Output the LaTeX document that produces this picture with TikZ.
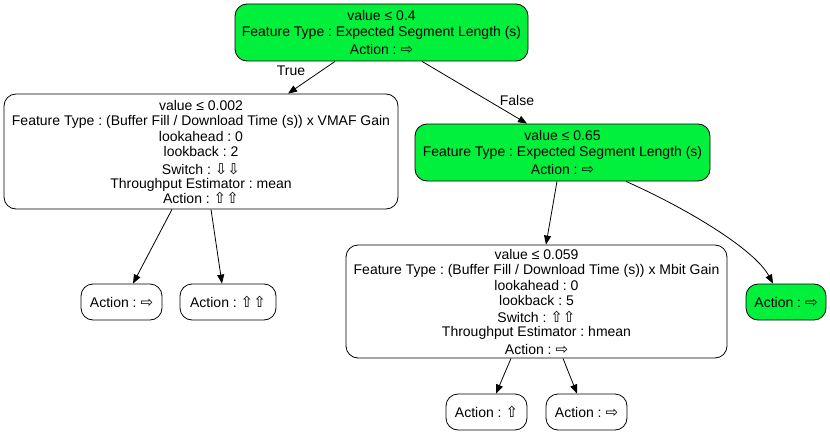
\documentclass[tikz,border=0pt]{standalone}
\usepackage{fontspec}
\setmainfont{Liberation Sans}
\newfontfamily\symf{DejaVu Sans}
\usetikzlibrary{arrows.meta}
\definecolor{leafgreen}{RGB}{0,240,60}
\newcommand{\ar}[1]{{\symf\fontsize{15}{15}\selectfont #1}}
\tikzset{
  tbox/.style={draw=black, line width=0.8pt, rounded corners=12pt, align=center, inner sep=0pt,
    font=\fontsize{14}{15.5}\selectfont\frenchspacing},
  gbox/.style={tbox, fill=leafgreen},
  edge/.style={draw=black, line width=0.8pt, -{Triangle[length=9pt,width=7pt]}},
  elabel/.style={font=\fontsize{14}{15.5}\selectfont, inner sep=0pt}
}
\begin{document}
\begin{tikzpicture}[x=1pt,y=-1pt]
\useasboundingbox (0,0) rectangle (830,436);
\node[gbox, minimum width=293pt, minimum height=57pt] (root) at (381.5,32.5)
  {value ≤ 0.4\\ Feature Type : Expected Segment Length (s)\\[2.5pt] Action : \ar{⇨}};
\node[tbox, minimum width=394pt, minimum height=115pt] (left) at (201,151.5)
  {value ≤ 0.002\\ Feature Type : (Buffer Fill / Download Time (s)) x VMAF Gain\\ lookahead : 0\\ lookback : 2\\[2pt]
   Switch : \ar{⇩⇩}\\[-1pt] Throughput Estimator : mean\\[-1pt] Action : \ar{⇧⇧}};
\node[gbox, minimum width=295pt, minimum height=57pt] (right) at (562.5,152.5)
  {value ≤ 0.65\\ Feature Type : Expected Segment Length (s)\\[2.5pt] Action : \ar{⇨}};
\node[tbox, minimum width=81pt, minimum height=36pt] (leafa) at (121.5,302) {Action : \ar{⇨}};
\node[tbox, minimum width=96pt, minimum height=36pt] (leafb) at (228,302) {Action : \ar{⇧⇧}};
\node[tbox, minimum width=381pt, minimum height=113pt] (mid) at (536.5,301.5)
  {value ≤ 0.059\\ Feature Type : (Buffer Fill / Download Time (s)) x Mbit Gain\\ lookahead : 0\\ lookback : 5\\[1.5pt]
   Switch : \ar{⇧⇧}\\[-2pt] Throughput Estimator : hmean\\[2.5pt] Action : \ar{⇨}};
\node[gbox, minimum width=80pt, minimum height=36pt] (leafg) at (786,302) {Action : \ar{⇨}};
\node[tbox, minimum width=81pt, minimum height=36pt] (leafc) at (486.5,412) {Action : \ar{⇧}};
\node[tbox, minimum width=81pt, minimum height=36pt] (leafd) at (586.5,412) {Action : \ar{⇨}};

\node[elabel] (lt) at (291,71) {True};
\node[elabel] (lf) at (517,100) {False};

\draw[edge] ([xshift=-46.5pt]root.south) -- ([xshift=87pt]left.north);
\draw[edge] ([xshift=40.5pt]root.south) -- ([xshift=-35.5pt]right.north);
\draw[edge] ([xshift=-29pt]left.south) -- ([xshift=11.5pt]leafa.north);
\draw[edge] ([xshift=10pt]left.south) -- ([xshift=-6pt]leafb.north);
\draw[edge] ([xshift=-5.5pt]right.south) -- ([xshift=9.5pt]mid.north);
\draw[edge] ([xshift=63.5pt]right.south) .. controls (690,210) and (755,250) .. ([xshift=-13pt]leafg.north);
\draw[edge] ([xshift=-25.5pt]mid.south) -- ([xshift=9.5pt]leafc.north);
\draw[edge] ([xshift=26.5pt]mid.south) -- ([xshift=-9.5pt]leafd.north);
\end{tikzpicture}
\end{document}
